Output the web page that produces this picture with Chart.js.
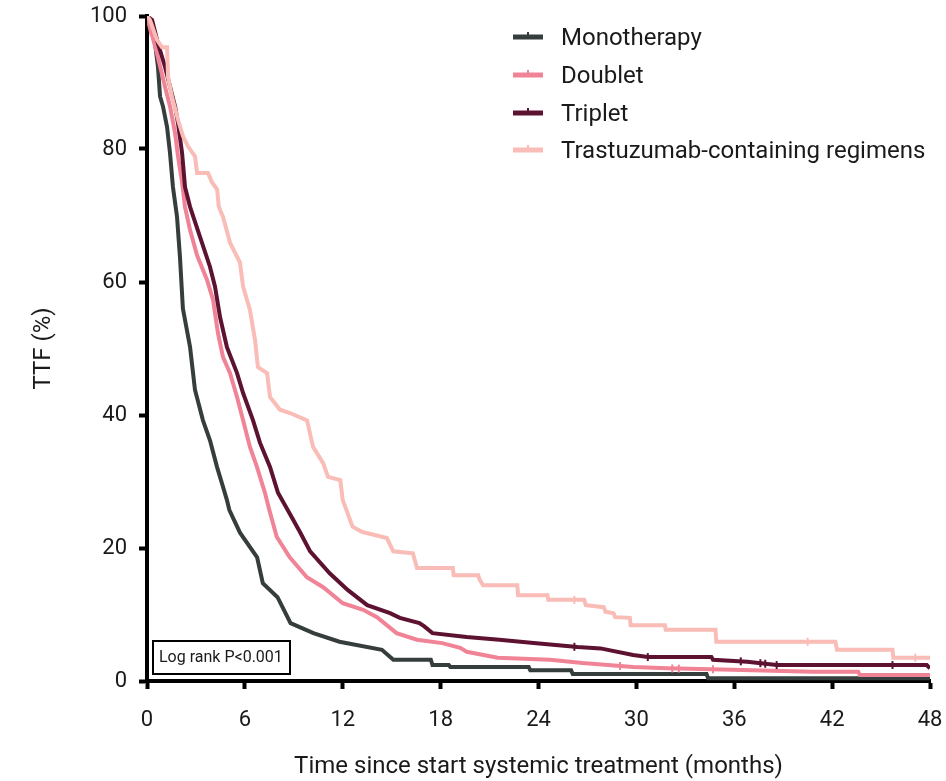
<!DOCTYPE html>
<html>
<head>
<meta charset="utf-8">
<script src="https://cdn.jsdelivr.net/npm/chart.js@4.4.1/dist/chart.umd.min.js"></script>
<style>
  html, body { margin: 0; padding: 0; background: #fff; }
  #wrap { width: 946px; height: 781px; }
</style>
</head>
<body>
<div id="wrap"><canvas id="km" width="946" height="781"></canvas></div>
<script>
const seriesNames = ['Monotherapy', 'Doublet', 'Triplet', 'Trastuzumab-containing regimens'];
const seriesColors = ['#363d3d', '#f08395', '#5c1230', '#f9bcb6']; // picked from the figure

// curve vertices (months, % without treatment failure)
const monoMonths = [0, 0.18, 0.49, 0.67, 0.8, 0.98, 1.23, 1.41, 1.59, 1.84, 2.02, 2.2, 2.64, 2.94, 3.43, 3.86, 4.29, 4.66, 4.9, 5.05, 5.7, 6.75, 7.1, 8.0, 8.8, 10.2, 11.8, 14.4, 15.1, 17.4, 17.5, 18.5, 18.6, 23.4, 23.5, 26.0, 26.1, 34.3, 34.4, 48];
const monoTTF = [100, 99.4, 95.9, 92.4, 87.9, 86.4, 83.3, 79.4, 74.3, 69.8, 63.8, 56, 50.2, 43.8, 39.2, 36.2, 32.2, 29.2, 27.2, 25.7, 22.3, 18.6, 14.7, 12.6, 8.7, 7.2, 5.9, 4.7, 3.2, 3.2, 2.4, 2.4, 2.1, 2.1, 1.6, 1.6, 1.05, 1.05, 0.4, 0.4];

const dblMonths = [0, 0.06, 0.61, 1.1, 1.41, 1.72, 1.9, 2.15, 2.33, 2.64, 3.07, 3.68, 4.05, 4.35, 4.66, 5.09, 5.52, 5.89, 6.31, 6.74, 7.23, 7.5, 7.95, 8.75, 9.8, 10.8, 12.0, 13.25, 14.1, 15.3, 16.55, 18.1, 19.2, 19.6, 21.5, 24.7, 26.7, 29.8, 31.9, 35.9, 40.8, 43.6, 43.7, 48];
const dblTTF = [100, 99.4, 94.4, 89.4, 86.4, 82.4, 78.9, 75, 71.3, 67.8, 64, 60.3, 57.3, 52.3, 48.7, 46.3, 42.7, 39.2, 35.2, 32.2, 28.3, 25.7, 21.7, 18.6, 15.6, 14.1, 11.7, 10.7, 9.6, 7.2, 6.2, 5.7, 5.0, 4.4, 3.5, 3.2, 2.7, 2.1, 1.9, 1.7, 1.4, 1.4, 0.9, 0.9];

const triMonths = [0, 0.31, 0.67, 1.1, 1.41, 1.72, 1.9, 2.15, 2.33, 2.64, 3.25, 3.86, 4.17, 4.48, 4.9, 5.52, 5.89, 6.5, 6.93, 7.54, 8.03, 8.9, 9.4, 10.0, 11.2, 12.3, 13.5, 14.9, 15.5, 16.7, 17.0, 17.5, 19.6, 21.6, 23.7, 26.4, 27.8, 29.8, 30.7, 34.6, 34.7, 36.8, 38.6, 47.8, 48];
const triTTF = [100, 99.4, 95.9, 92.4, 89.4, 86.4, 83.9, 79.4, 74.3, 71.3, 66.8, 62.3, 59.3, 54.7, 50.2, 46.3, 43.3, 39.2, 35.8, 32.2, 28.3, 24.5, 22.3, 19.5, 16.2, 13.7, 11.4, 10.2, 9.5, 8.7, 8.2, 7.2, 6.6, 6.2, 5.7, 5.1, 4.9, 3.9, 3.6, 3.6, 3.2, 2.9, 2.4, 2.4, 1.9];

const trzMonths = [0, 0.18, 0.61, 0.92, 1.23, 1.29, 1.53, 1.9, 2.21, 2.51, 2.94, 3.07, 3.74, 3.98, 4.3, 4.4, 4.66, 5.09, 5.7, 5.89, 6.31, 6.62, 6.8, 7.36, 7.54, 8.15, 8.77, 9.81, 10.18, 10.79, 11.1, 11.85, 12.0, 12.6, 13.2, 13.9, 14.7, 15.1, 16.3, 16.55, 18.75, 18.8, 20.3, 20.4, 20.6, 22.7, 22.75, 24.55, 24.6, 26.8, 26.9, 28.0, 28.1, 28.6, 28.7, 29.6, 29.65, 31.75, 31.8, 34.85, 34.9, 42.2, 42.3, 45.7, 45.75, 48];
const trzTTF = [100, 99.4, 96.4, 95.3, 95.3, 90.8, 87.9, 84.4, 81.9, 80.4, 78.9, 76.4, 76.4, 75, 73.9, 71.3, 69.8, 65.9, 62.9, 59.3, 55.8, 51.3, 47.2, 46.3, 42.7, 40.8, 40.3, 39.2, 35.2, 32.8, 30.7, 30.2, 27.2, 23.2, 22.4, 22.0, 21.5, 19.5, 19.2, 17.0, 17.0, 15.9, 15.9, 15.2, 14.4, 14.4, 12.9, 12.9, 12.2, 12.2, 11.4, 11.1, 10.4, 10.2, 9.6, 9.5, 8.4, 8.4, 7.7, 7.7, 5.9, 5.9, 4.7, 4.7, 3.5, 3.5];

// censored observations (months)
const monoCensor = [];
const dblCensor = [29.0, 32.2, 32.6, 34.7];
const triCensor = [26.2, 30.7, 36.4, 37.6, 37.9, 38.6, 45.7];
const trzCensor = [26.2, 40.5, 47.1];

const xTicks = [0, 6, 12, 18, 24, 30, 36, 42, 48];
const yTicks = [0, 20, 40, 60, 80, 100];

const FONT = 'Roboto, "DejaVu Sans", sans-serif';
const TEXT = '#1a1a1a';

function toPoints(months, ttf) {
  return months.map((m, i) => ({ x: m, y: ttf[i] }));
}

// height of the drawn curve at time t, used to sit the censor marks on it
function levelAt(months, ttf, t) {
  for (let i = 1; i < months.length; i++) {
    if (t <= months[i]) {
      const f = (t - months[i - 1]) / (months[i] - months[i - 1] || 1);
      return ttf[i - 1] + f * (ttf[i] - ttf[i - 1]);
    }
  }
  return ttf[ttf.length - 1];
}

const curves = [
  [monoMonths, monoTTF, monoCensor],
  [dblMonths, dblTTF, dblCensor],
  [triMonths, triTTF, triCensor],
  [trzMonths, trzTTF, trzCensor],
];

const datasets = [];
curves.forEach(([months, ttf], i) => {
  datasets.push({
    label: seriesNames[i],
    data: toPoints(months, ttf),
    borderColor: seriesColors[i],
    backgroundColor: seriesColors[i],
    borderWidth: 4,
    pointRadius: 0,
    tension: 0,
    order: 4 - i,
  });
});
curves.forEach(([months, ttf, censor], i) => {
  if (!censor.length) return;
  datasets.push({
    label: seriesNames[i] + ' censored',
    data: censor.map(t => ({ x: t, y: levelAt(months, ttf, t) })),
    showLine: false,
    pointStyle: 'line',
    rotation: 90,
    pointRadius: 4,
    borderWidth: 2,
    borderColor: seriesColors[i],
    order: 0,
  });
});

// legend top right, drawn like the figure (line with a censor tick)
const kmLegend = {
  id: 'kmLegend',
  afterDraw(chart) {
    const ctx = chart.ctx;
    const rows = [37, 75, 113, 150];
    ctx.save();
    ctx.font = '24px ' + FONT;
    ctx.textBaseline = 'middle';
    seriesNames.forEach((name, i) => {
      const y = rows[i];
      ctx.strokeStyle = seriesColors[i];
      ctx.lineWidth = 5;
      ctx.beginPath();
      ctx.moveTo(513, y);
      ctx.lineTo(543, y);
      ctx.stroke();
      ctx.lineWidth = 2;
      ctx.beginPath();
      ctx.moveTo(528, y);
      ctx.lineTo(528, y - 5);
      ctx.stroke();
      ctx.fillStyle = TEXT;
      ctx.fillText(name, 561, y + 2);
    });

    // log rank annotation
    ctx.lineWidth = 2;
    ctx.strokeStyle = '#000';
    ctx.fillStyle = '#fff';
    ctx.fillRect(153, 641, 137, 33);
    ctx.strokeRect(153, 641, 137, 33);
    ctx.fillStyle = TEXT;
    ctx.font = '16px ' + FONT;
    ctx.fillText('Log rank P<0.001', 159, 658);
    ctx.restore();
  },
};

const axisGrid = {
  display: true,
  drawOnChartArea: false,
  drawTicks: true,
  tickLength: 8,
  tickWidth: 4,
  tickColor: '#000',
};

// keep the plot area where the figure has it: no extra room for edge labels
function noEdgePadding(scale) {
  scale.paddingTop = 0;
  scale.paddingBottom = 0;
  scale.paddingLeft = 0;
  scale.paddingRight = 0;
}

new Chart(document.getElementById('km'), {
  type: 'line',
  data: { datasets },
  options: {
    responsive: false,
    animation: false,
    devicePixelRatio: 1,
    layout: { padding: { left: 0, top: 16, right: 16, bottom: 0 } },
    plugins: {
      legend: { display: false },
      tooltip: { enabled: false },
    },
    scales: {
      x: {
        type: 'linear',
        min: 0,
        max: 48,
        afterBuildTicks: (scale) => { scale.ticks = xTicks.map(v => ({ value: v })); },
        afterFit: (scale) => { scale.height = 100; noEdgePadding(scale); },
        ticks: { color: TEXT, padding: 18, font: { family: FONT, size: 22 } },
        grid: axisGrid,
        border: { display: true, width: 4, color: '#000' },
        title: {
          display: true,
          text: 'Time since start systemic treatment (months)',
          color: TEXT,
          font: { family: FONT, size: 24 },
          padding: { top: 0, bottom: 0 },
        },
      },
      y: {
        type: 'linear',
        min: 0,
        max: 100,
        afterBuildTicks: (scale) => { scale.ticks = yTicks.map(v => ({ value: v })); },
        afterFit: (scale) => { scale.width = 147; noEdgePadding(scale); },
        ticks: { color: TEXT, padding: 12, font: { family: FONT, size: 22 } },
        grid: axisGrid,
        border: { display: true, width: 4, color: '#000' },
        title: {
          display: true,
          text: 'TTF (%)',
          color: TEXT,
          font: { family: FONT, size: 24 },
          padding: { top: 30, bottom: 0 },
        },
      },
    },
  },
  plugins: [kmLegend],
});
</script>
</body>
</html>
